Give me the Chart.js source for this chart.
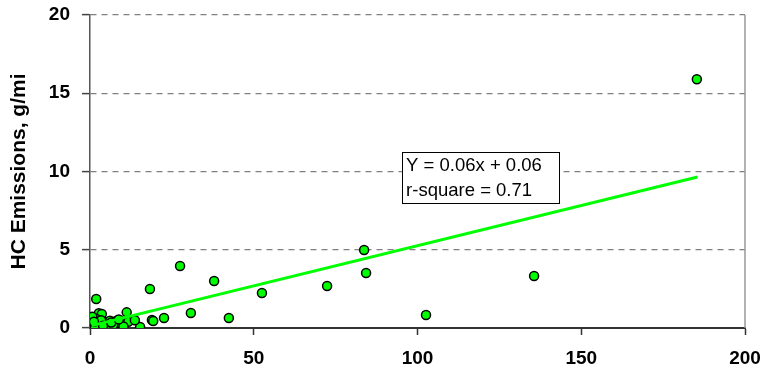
<!DOCTYPE html>
<html>
<head>
<meta charset="utf-8">
<script src="https://cdn.jsdelivr.net/npm/chart.js@4/dist/chart.umd.min.js"></script>
<style>
  html, body { margin: 0; padding: 0; background: #fff; }
  #wrap { width: 770px; height: 380px; }
</style>
</head>
<body>
<div id="wrap"><canvas id="c" width="770" height="380"></canvas></div>
<script>
// Scatter data (x, HC emissions g/mi)
const pointX = [185.3, 135.6, 102.6, 83.7, 84.3, 72.4, 52.5, 42.4, 37.9, 27.5,
                18.3, 30.8, 22.6, 18.9, 19.3, 15.3, 1.9, 11.2, 2.7, 3.6,
                2.0, 0.3, 0.0, 4.6, 6.1, 8.1, 9.2, 11.7, 13.7, 2.5,
                1.5, 5.1, 7.1, 10.2, 0.7, 3.4, 1.2, 4.0, 6.5, 8.8];
const pointY = [15.9, 3.32, 0.83, 4.98, 3.51, 2.68, 2.24, 0.64, 3.0, 3.96,
                2.49, 0.96, 0.64, 0.51, 0.45, 0.06, 1.85, 1.0, 0.95, 0.9,
                0.57, 0.3, 0.3, 0.35, 0.47, 0.47, 0.3, 0.4, 0.5, 0.19,
                0.08, 0.2, 0.2, 0.1, 0.72, 0.5, 0.4, 0.15, 0.35, 0.55];
// Trend line end points
const trendX = [0.5, 185.5];
const trendY = [0.15, 9.65];
// Axis ticks
const xTicks = [0, 50, 100, 150, 200];
const yTicks = [0, 5, 10, 15, 20];
// Annotation text
const noteLines = ['Y = 0.06x + 0.06', 'r-square = 0.71'];
const noteBox = { x1: 95.3, x2: 143.2, y1: 11.25, y2: 8.0 };
const yTitle = 'HC Emissions, g/mi';

const FONT = '"Liberation Sans", Arial, sans-serif';

const scatterData = pointX.map((x, i) => ({ x: x, y: pointY[i] }));
const trendData = trendX.map((x, i) => ({ x: x, y: trendY[i] }));

const notePlugin = {
  id: 'note',
  afterDatasetsDraw(chart) {
    const { ctx, scales } = chart;
    const l = scales.x.getPixelForValue(noteBox.x1);
    const r = scales.x.getPixelForValue(noteBox.x2);
    const t = scales.y.getPixelForValue(noteBox.y1);
    const b = scales.y.getPixelForValue(noteBox.y2);
    ctx.save();
    ctx.fillStyle = '#fff';
    ctx.fillRect(l, t, r - l, b - t);
    ctx.strokeStyle = '#000';
    ctx.lineWidth = 1;
    ctx.strokeRect(Math.round(l) + 0.5, Math.round(t) + 0.5, Math.round(r - l), Math.round(b - t));
    ctx.fillStyle = '#000';
    ctx.font = '18.5px ' + FONT;
    ctx.textBaseline = 'middle';
    ctx.textAlign = 'left';
    const lh = (b - t) / noteLines.length;
    noteLines.forEach((s, i) => ctx.fillText(s, l + 4, t + lh * (i + 0.5) + 1));
    ctx.restore();
  }
};

const rightBorder = {
  id: 'rightBorder',
  beforeDatasetsDraw(chart) {
    const { ctx, chartArea } = chart;
    ctx.save();
    ctx.strokeStyle = '#999';
    ctx.lineWidth = 1.5;
    ctx.beginPath();
    ctx.moveTo(chartArea.right, chartArea.top);
    ctx.lineTo(chartArea.right, chartArea.bottom);
    ctx.stroke();
    ctx.restore();
  }
};

new Chart(document.getElementById('c'), {
  type: 'scatter',
  data: {
    datasets: [
      {
        type: 'line',
        data: trendData,
        borderColor: '#00ff00',
        borderWidth: 3,
        pointRadius: 0,
        showLine: true,
        fill: false,
        order: 0
      },
      {
        data: scatterData,
        backgroundColor: '#00ff00',
        borderColor: '#000',
        borderWidth: 1.5,
        pointRadius: 4.5,
        order: 1
      }
    ]
  },
  options: {
    responsive: false,
    animation: false,
    devicePixelRatio: 1,
    layout: { padding: { left: 0, right: 25, top: 15, bottom: 0 } },
    plugins: { legend: { display: false }, tooltip: { enabled: false } },
    scales: {
      x: {
        type: 'linear',
        min: 0, max: 200,
        afterBuildTicks(scale) { scale.ticks = xTicks.map(v => ({ value: v })); },
        afterFit(scale) { scale.height = 52; scale.paddingLeft = 0; scale.paddingRight = 0; },
        ticks: {
          color: '#000',
          font: { family: FONT, size: 19, weight: 'bold' },
          padding: 12,
          maxRotation: 0
        },
        grid: {
          drawOnChartArea: false,
          drawTicks: true,
          tickLength: 7,
          tickColor: '#333',
          tickWidth: 1.5
        },
        border: { display: true, color: '#333', width: 2 }
      },
      y: {
        type: 'linear',
        min: 0, max: 20,
        afterBuildTicks(scale) { scale.ticks = yTicks.map(v => ({ value: v })); },
        afterFit(scale) { scale.width = 90; scale.paddingTop = 0; scale.paddingBottom = 0; },
        ticks: {
          color: '#000',
          font: { family: FONT, size: 19, weight: 'bold' },
          padding: 12
        },
        title: {
          display: true,
          text: yTitle,
          color: '#000',
          font: { family: FONT, size: 21, weight: 'bold' },
          padding: { top: 7, bottom: 0 }
        },
        grid: {
          color: (c) => (c.tick && c.tick.value === 0 ? 'rgba(0,0,0,0)' : '#808080'),
          lineWidth: 1.2,
          drawTicks: true,
          tickLength: 8,
          tickColor: '#444',
          tickWidth: 1.5,
          tickBorderDash: []
        },
        border: { display: true, color: '#555', width: 1.5, dash: [6, 5] }
      }
    }
  },
  plugins: [rightBorder, notePlugin]
});
</script>
</body>
</html>
